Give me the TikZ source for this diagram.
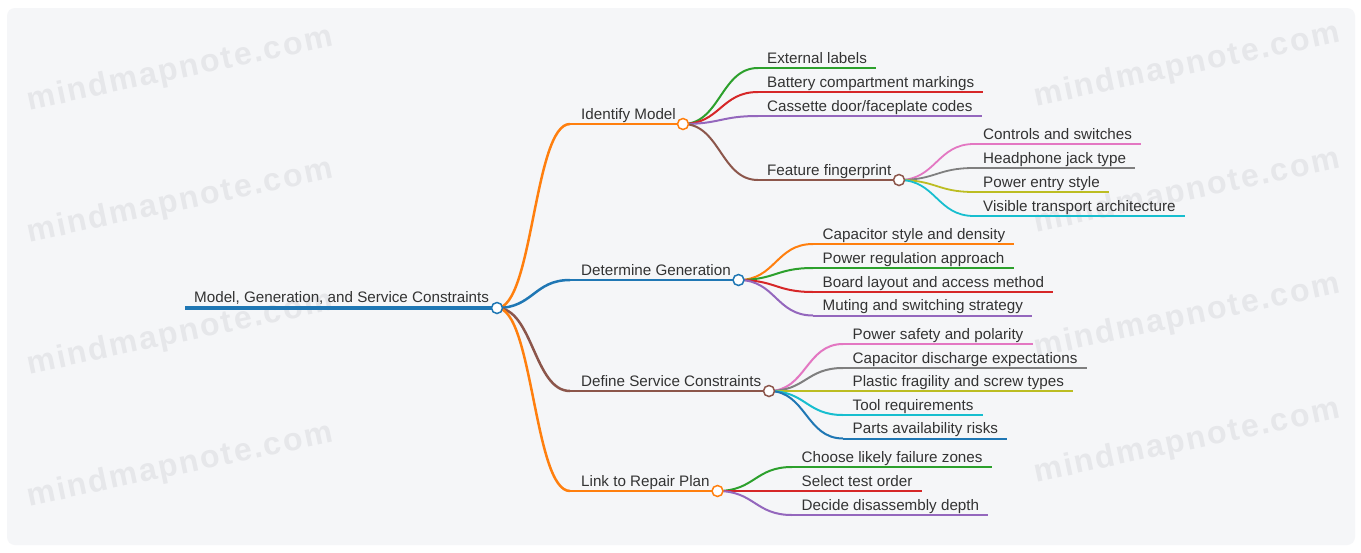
\documentclass[tikz,border=0pt]{standalone}
\usepackage{fontspec}
\setmainfont{Liberation Sans}
\newfontfamily\wmfont[LetterSpace=6]{Liberation Sans}
\definecolor{cblue}{HTML}{1F77B4}
\definecolor{corange}{HTML}{FF7F0E}
\definecolor{cgreen}{HTML}{2CA02C}
\definecolor{cred}{HTML}{D62728}
\definecolor{cpurple}{HTML}{9467BD}
\definecolor{cbrown}{HTML}{8C564B}
\definecolor{cpink}{HTML}{E377C2}
\definecolor{cgray}{HTML}{7F7F7F}
\definecolor{colive}{HTML}{BCBD22}
\definecolor{ccyan}{HTML}{17BECF}
\definecolor{bgc}{HTML}{F5F6F8}
\definecolor{wmc}{HTML}{E6E7EA}
\definecolor{txtc}{HTML}{333333}
\tikzset{
  txt/.style={anchor=base west, inner sep=0pt, text=txtc, font=\fontsize{15.2}{18}\selectfont},
  wm/.style={text=wmc, font=\wmfont\bfseries\fontsize{32}{36}\selectfont, rotate=12, inner sep=0pt},
  dot/.style={circle, draw, fill=white, line width=1.5pt, minimum size=11pt, inner sep=0pt},
  la/.style={line width=2.5pt},
  lb/.style={line width=2pt},
  lc/.style={line width=1.8pt},
}
\begin{document}
\begin{tikzpicture}[x=1pt,y=-1pt]
\useasboundingbox (0,0) rectangle (1361,552);
\fill[white] (0,0) rectangle (1361,552);
\fill[bgc, rounded corners=8pt] (7,8) rectangle (1355,545);
% watermarks
\node[wm] (wm1) at (180,70) {mindmapnote.com};
\node[wm] (wm2) at (180,202) {mindmapnote.com};
\node[wm] (wm3) at (180,334) {mindmapnote.com};
\node[wm] (wm4) at (180,466) {mindmapnote.com};
\node[wm] (wm5) at (1187,66) {mindmapnote.com};
\node[wm] (wm6) at (1187,192) {mindmapnote.com};
\node[wm] (wm7) at (1187,317) {mindmapnote.com};
\node[wm] (wm8) at (1187,442) {mindmapnote.com};

% ---------- coordinates of underline starts ----------
\coordinate (root-s) at (185,308);
\coordinate (im-s) at (570,124);
\coordinate (dg-s) at (570,280);
\coordinate (ds-s) at (570,391);
\coordinate (lr-s) at (570,491);
\coordinate (ext-s) at (758,68);
\coordinate (bat-s) at (758,92);
\coordinate (cas-s) at (758,116);
\coordinate (ff-s) at (758,180);
\coordinate (con-s) at (974,144);
\coordinate (hea-s) at (974,168);
\coordinate (pow-s) at (974,192);
\coordinate (vis-s) at (974,216);
\coordinate (cap-s) at (813,244);
\coordinate (reg-s) at (813,268);
\coordinate (brd-s) at (813,292);
\coordinate (mut-s) at (813,315.5);
\coordinate (saf-s) at (843,344);
\coordinate (dis-s) at (843,368);
\coordinate (pla-s) at (843,391);
\coordinate (too-s) at (843,415);
\coordinate (par-s) at (843,438.5);
\coordinate (cho-s) at (792,467);
\coordinate (sel-s) at (792,491);
\coordinate (dec-s) at (792,515);

% ---------- texts ----------
\node[txt] (root) at (194,302) {Model, Generation, and Service Constraints};
\node[txt] (im) at (581,119) {Identify Model};
\node[txt] (dg) at (581,275) {Determine Generation};
\node[txt] (ds) at (581,386) {Define Service Constraints};
\node[txt] (lr) at (581,486) {Link to Repair Plan};
\node[txt] (ext) at (767,63) {External labels};
\node[txt] (bat) at (767,87) {Battery compartment markings};
\node[txt] (cas) at (767,111) {Cassette door/faceplate codes};
\node[txt] (ff) at (767,175) {Feature fingerprint};
\node[txt] (con) at (983,139) {Controls and switches};
\node[txt] (hea) at (983,163) {Headphone jack type};
\node[txt] (pow) at (983,187) {Power entry style};
\node[txt] (vis) at (983,211) {Visible transport architecture};
\node[txt] (cap) at (822.5,239) {Capacitor style and density};
\node[txt] (reg) at (822.5,263) {Power regulation approach};
\node[txt] (brd) at (822.5,287) {Board layout and access method};
\node[txt] (mut) at (822.5,310.5) {Muting and switching strategy};
\node[txt] (saf) at (852.5,339) {Power safety and polarity};
\node[txt] (dis) at (852.5,363) {Capacitor discharge expectations};
\node[txt] (pla) at (852.5,386) {Plastic fragility and screw types};
\node[txt] (too) at (852.5,410) {Tool requirements};
\node[txt] (par) at (852.5,433.5) {Parts availability risks};
\node[txt] (cho) at (801.5,462) {Choose likely failure zones};
\node[txt] (sel) at (801.5,486) {Select test order};
\node[txt] (dec) at (801.5,510) {Decide disassembly depth};

% ---------- circle positions ----------
\coordinate (root-c) at (497,308);
\coordinate (im-c) at (683,124);
\coordinate (dg-c) at (738.5,280);
\coordinate (ds-c) at (769,391);
\coordinate (lr-c) at (717.5,491);
\coordinate (ff-c) at (899,180);

% ---------- underlines ----------
\draw[cblue, line width=4pt] (root-s) -- (root-c);
\draw[la, corange] (im-s) -- (im-c);
\draw[la, cblue] (dg-s) -- (dg-c);
\draw[la, cbrown] (ds-s) -- (ds-c);
\draw[la, corange] (lr-s) -- (lr-c);
\draw[lb, cbrown] (ff-s) -- (ff-c);
\foreach \n/\c/\w in {ext/cgreen/lb, bat/cred/lb, cas/cpurple/lb,
  con/cpink/lc, hea/cgray/lc, pow/colive/lc, vis/ccyan/lc,
  cap/corange/lb, reg/cgreen/lb, brd/cred/lb, mut/cpurple/lb,
  saf/cpink/lb, dis/cgray/lb, pla/colive/lb, too/ccyan/lb, par/cblue/lb,
  cho/cgreen/lb, sel/cred/lb, dec/cpurple/lb}
  \draw[\w, \c] (\n-s) -- ([xshift=9pt]\n-s -| \n.east);

% ---------- connectors ----------
\foreach \t/\c in {im/corange, dg/cblue, ds/cbrown, lr/corange}
  \draw[la, \c] (root-c) .. controls +(36,0) and +(-36,0) .. (\t-s);
\foreach \t/\c in {ext/cgreen, bat/cred, cas/cpurple, ff/cbrown}
  \draw[lb, \c] (im-c) .. controls +(37,0) and +(-37,0) .. (\t-s);
\foreach \t/\c in {con/cpink, hea/cgray, pow/colive, vis/ccyan}
  \draw[lc, \c] (ff-c) .. controls +(37,0) and +(-37,0) .. (\t-s);
\foreach \t/\c in {cap/corange, reg/cgreen, brd/cred, mut/cpurple}
  \draw[lb, \c] (dg-c) .. controls +(37,0) and +(-37,0) .. (\t-s);
\foreach \t/\c in {saf/cpink, dis/cgray, pla/colive, too/ccyan, par/cblue}
  \draw[lb, \c] (ds-c) .. controls +(37,0) and +(-37,0) .. (\t-s);
\foreach \t/\c in {cho/cgreen, sel/cred, dec/cpurple}
  \draw[lb, \c] (lr-c) .. controls +(37,0) and +(-37,0) .. (\t-s);

% ---------- circles ----------
\node[dot, draw=cblue] (root-dot) at (root-c) {};
\node[dot, draw=corange] (im-dot) at (im-c) {};
\node[dot, draw=cblue] (dg-dot) at (dg-c) {};
\node[dot, draw=cbrown] (ds-dot) at (ds-c) {};
\node[dot, draw=corange] (lr-dot) at (lr-c) {};
\node[dot, draw=cbrown] (ff-dot) at (ff-c) {};
\end{tikzpicture}
\end{document}
